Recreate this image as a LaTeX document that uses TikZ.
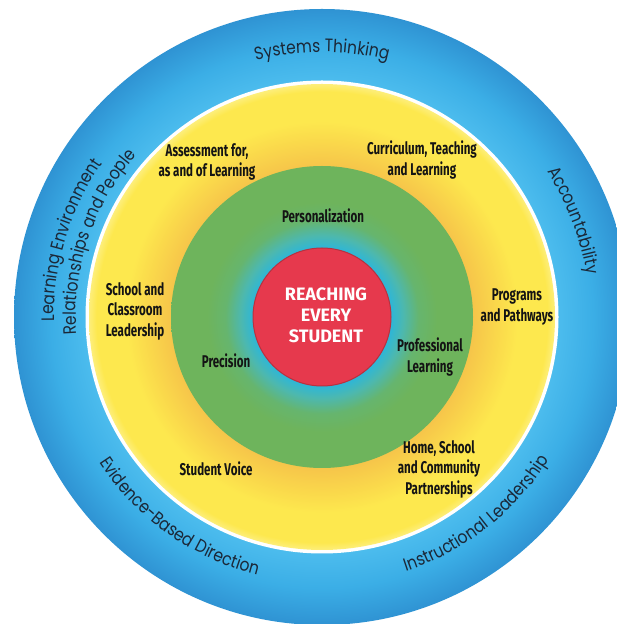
\documentclass[tikz,border=0pt]{standalone}
\usepackage{fontspec}
\usetikzlibrary{decorations.text}
\newfontfamily\labfont[FakeStretch=0.68]{Fira Sans}
\newfontfamily\ringfont[FakeStretch=0.86]{Poppins}
\newfontfamily\corefont{Fira Sans}
\definecolor{bA}{HTML}{4DBDEE}
\definecolor{bB}{HTML}{3BAEE6}
\definecolor{bC}{HTML}{2F93D3}
\definecolor{yA}{HTML}{F6C54A}
\definecolor{yB}{HTML}{FAD84B}
\definecolor{yC}{HTML}{FDE84E}
\definecolor{yD}{HTML}{FDEE7A}
\definecolor{gA}{HTML}{2DB6D8}
\definecolor{gB}{HTML}{4DB8AE}
\definecolor{gC}{HTML}{66B56E}
\definecolor{gD}{HTML}{6EB45C}
\definecolor{coreRed}{HTML}{E6394D}
\definecolor{coreEdge}{HTML}{B8313F}
\definecolor{ringText}{HTML}{1B2838}
\definecolor{labText}{HTML}{141414}
\pgfdeclareradialshading{blueshade}{\pgfpoint{0bp}{0bp}}{color(0bp)=(bA); color(19bp)=(bA); color(22bp)=(bB); color(25bp)=(bC); color(50bp)=(bC)}
\pgfdeclareradialshading{yellowshade}{\pgfpoint{0bp}{0bp}}{color(0bp)=(yA); color(16.2bp)=(yA); color(18.8bp)=(yB); color(21bp)=(yC); color(24.2bp)=(yC); color(25bp)=(yD); color(50bp)=(yD)}
\pgfdeclareradialshading{greenshade}{\pgfpoint{0bp}{0bp}}{color(0bp)=(gA); color(11.4bp)=(gA); color(13.5bp)=(gB); color(16bp)=(gC); color(19bp)=(gD); color(25bp)=(gD); color(50bp)=(gD)}
\tikzset{
  lab/.style={font=\labfont\bfseries\fontsize{17}{20.5}\selectfont, text=labText, align=center, inner sep=0pt},
  core/.style={font=\corefont\bfseries\fontsize{18}{21}\selectfont, text=white, align=center, inner sep=0pt},
  ringlab/.style={decorate, decoration={text along path, text align=center, text color=ringText, text={#1}}}
}
\begin{document}
\begin{tikzpicture}[x=1pt,y=1pt]
\useasboundingbox (0,0) rectangle (617,624);
\clip (0,0) rectangle (617,624);
\fill[white] (0,0) rectangle (617,624);
\coordinate (C) at (322,307);
\shade[shading=blueshade] (C) circle (308);
\fill[white] (C) circle (236.5);
\shade[shading=yellowshade] (C) circle (233);
\shade[shading=greenshade] (C) circle (151);
\fill[coreRed, draw=coreEdge, line width=1pt] (C) circle (69);
\node[core] (core) at (326,309) {REACHING\\EVERY\\STUDENT};
\node[lab] (assess) at (207,462) {Assessment for,\\as and of Learning};
\node[lab] (curr) at (422,464) {Curriculum, Teaching\\and Learning};
\node[lab] (pers) at (323,408) {Personalization};
\node[lab] (school) at (135,313) {School and\\Classroom\\Leadership};
\node[lab] (prog) at (517,317) {Programs\\and Pathways};
\node[lab] (prec) at (226,263) {Precision};
\node[lab] (prof) at (430,267) {Professional\\Learning};
\node[lab] (home) at (439,155) {Home, School\\and Community\\Partnerships};
\node[lab] (voice) at (216,155) {Student Voice};
\begin{scope}[shift={(322,307)}]
\path[ringlab={|\ringfont\fontsize{18}{20}\selectfont|Systems Thinking}] (115:265) arc[start angle=115, end angle=65, radius=265];
\path[ringlab={|\ringfont\fontsize{18}{20}\selectfont|Accountability}] (48:268) arc[start angle=48, end angle=-6, radius=268];
\path[ringlab={|\ringfont\fontsize{18}{20}\selectfont|Instructional Leadership}] (-86:268) arc[start angle=-86, end angle=-18, radius=268];
\path[ringlab={|\ringfont\fontsize{18}{20}\selectfont|Evidence-Based Direction}] (199:266) arc[start angle=199, end angle=270, radius=266];
\path[ringlab={|\ringfont\fontsize{18}{20}\selectfont|Learning Environment}] (196:268) arc[start angle=196, end angle=130, radius=268];
\path[ringlab={|\ringfont\fontsize{18}{20}\selectfont|Relationships and People}] (197:246) arc[start angle=197, end angle=126, radius=246];
\end{scope}
\end{tikzpicture}
\end{document}
